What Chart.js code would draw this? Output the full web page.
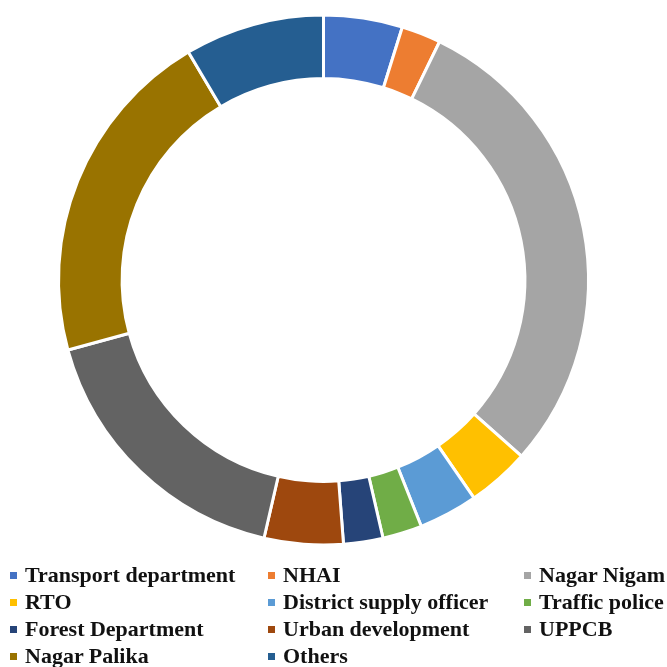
<!DOCTYPE html>
<html>
<head>
<meta charset="utf-8">
<script src="https://cdn.jsdelivr.net/npm/chart.js@4"></script>
<style>
  html, body { margin:0; padding:0; background:#fff; }
  #wrap { position:relative; width:667px; height:667px; overflow:hidden; }
  #c { position:absolute; left:0; top:0; }
  #legend { position:absolute; left:0; top:0; width:667px; height:667px; pointer-events:none;
    font-family:"Liberation Serif","Times New Roman",serif; font-weight:bold; font-size:22px; color:#111; }
  .item { position:absolute; white-space:nowrap; line-height:22px; }
  .box { position:absolute; width:7px; height:7px; top:8px; }
  .txt { position:absolute; top:0; }
</style>
</head>
<body>
<div id="wrap">
  <canvas id="c" width="667" height="667"></canvas>
  <div id="legend"></div>
</div>
<script>
const labels = ["Transport department","NHAI","Nagar Nigam","RTO","District supply officer","Traffic police","Forest Department","Urban development","UPPCB","Nagar Palika","Others"];
const values = [4.8, 2.4, 29.3, 3.8, 3.6, 2.4, 2.4, 4.8, 17.1, 20.7, 8.5];
const colors = ["#4472C4","#ED7D31","#A5A5A5","#FFC000","#5B9BD5","#70AD47","#264478","#9E480E","#636363","#997300","#255E91"];

const chart = new Chart(document.getElementById('c'), {
  type: 'doughnut',
  data: { labels: labels, datasets: [{ data: values, backgroundColor: colors, borderColor: '#ffffff', borderWidth: 3, hoverOffset: 0, offset: 0 }] },
  options: {
    responsive: false,
    animation: false,
    cutout: '76%',
    layout: { padding: { top: 13, bottom: 120, left: 57, right: 77 } },
    plugins: { legend: { display: false }, tooltip: { enabled: false } }
  }
});

// HTML legend in a 3-column grid
const colX = [10, 268, 524];
const rowY = [564, 591, 618, 645];
const leg = document.getElementById('legend');
labels.forEach((lab, i) => {
  const r = Math.floor(i / 3), c = i % 3;
  const it = document.createElement('div');
  it.className = 'item';
  it.style.left = colX[c] + 'px';
  it.style.top = rowY[r] + 'px';
  const b = document.createElement('div');
  b.className = 'box';
  b.style.left = '0px';
  b.style.background = colors[i];
  const t = document.createElement('div');
  t.className = 'txt';
  t.style.left = '15px';
  t.textContent = lab;
  it.appendChild(b); it.appendChild(t);
  leg.appendChild(it);
});
</script>
</body>
</html>
